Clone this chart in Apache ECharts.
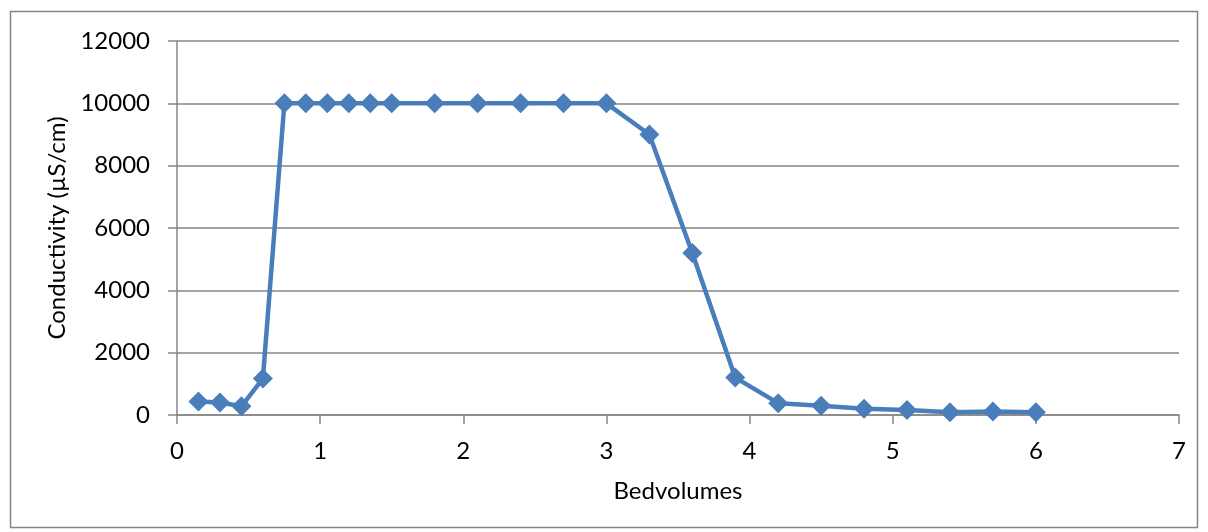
<!DOCTYPE html>
<html><head><meta charset="utf-8">
<script src="https://cdn.jsdelivr.net/npm/echarts@6/dist/echarts.min.js"></script>
<style>html,body{margin:0;padding:0;background:#fff}#c{width:1208px;height:532px}</style>
</head><body><div id="c"></div>
<script>
const bedvolumes = [0.15,0.3,0.45,0.6,0.75,0.9,1.05,1.2,1.35,1.5,1.8,2.1,2.4,2.7,3.0,3.3,3.6,3.9,4.2,4.5,4.8,5.1,5.4,5.7,6.0];
const conductivity = [430,400,280,1170,10000,10000,10000,10000,10000,10000,10000,10000,10000,10000,10000,9000,5200,1200,380,300,200,160,90,110,90];
const xAxisName = 'Bedvolumes';
const yAxisName = 'Conductivity (µS/cm)';

const FONT = 'Lato';
const chart = echarts.init(document.getElementById('c'));
chart.setOption({
  animation:false,
  textStyle:{fontFamily:FONT},
  graphic:[{type:'rect',shape:{x:10.5,y:11.5,width:1187,height:516},style:{fill:'none',stroke:'#868686',lineWidth:1.5}}],
  grid:{left:177,top:41,right:29,bottom:117},
  xAxis:{type:'value',min:0,max:7,interval:1,
    name:xAxisName,nameLocation:'middle',nameGap:64,
    nameTextStyle:{fontSize:24,color:'#000',fontFamily:FONT},
    axisLine:{lineStyle:{color:'#868686',width:1.5}},
    axisTick:{show:true,length:9,lineStyle:{color:'#868686',width:1.5}},
    axisLabel:{fontSize:24,color:'#000',margin:24},
    splitLine:{show:false}},
  yAxis:{type:'value',min:0,max:12000,interval:2000,
    name:yAxisName,nameLocation:'middle',nameGap:101,
    nameTextStyle:{fontSize:24,color:'#000',fontFamily:FONT},
    axisLine:{show:true,lineStyle:{color:'#868686',width:1.5}},
    axisTick:{show:true,length:9,lineStyle:{color:'#868686',width:1.5}},
    axisLabel:{fontSize:24,color:'#000',margin:27,formatter:v=>String(v)},
    splitLine:{show:true,lineStyle:{color:'#868686',width:1.5}}},
  series:[{type:'line',data:bedvolumes.map((x,i)=>[x,conductivity[i]]),
    symbol:'diamond',symbolSize:20,
    lineStyle:{color:'#4a7ebb',width:4.5},
    itemStyle:{color:'#4a7ebb'}}]
});
</script></body></html>
